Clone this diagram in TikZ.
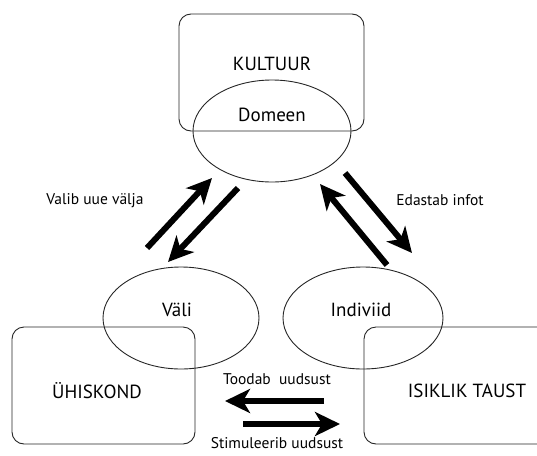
\documentclass[tikz,border=0pt]{standalone}
\usepackage{fontspec}
\setmainfont{PT Sans}
\usetikzlibrary{arrows.meta}
\tikzset{
  box/.style={draw=black!85, line width=0.9pt, rounded corners=12pt},
  oval/.style={draw=black!85, line width=0.9pt},
  bigtext/.style={font=\fontsize{19}{22}\selectfont, inner sep=0pt},
  smalltext/.style={font=\fontsize{15.5}{18}\selectfont, inner sep=0pt},
  fatarrow/.style={line width=6pt, -{Stealth[length=25pt,width=24pt,inset=7pt]}},
}
\begin{document}
\begin{tikzpicture}[x=1pt,y=-1pt]
\useasboundingbox (0,0) rectangle (537,455);
\clip (0,0) rectangle (537,455);
% boxes
\draw[box] (179,14) rectangle (364,131);
\draw[box] (12,327) rectangle (195,444);
\draw[box] (364,327) rectangle (570,444);
% ellipses
\draw[oval] (272,131) ellipse [x radius=79, y radius=51];
\draw[oval] (181,318) ellipse [x radius=78, y radius=51];
\draw[oval] (363,318) ellipse [x radius=80, y radius=51];
% labels
\node[bigtext] (kultuur) at (272,64) {KULTUUR};
\node[bigtext] (domeen) at (272,115) {Domeen};
\node[bigtext] (vali) at (177,310) {Väli};
\node[bigtext] (indiviid) at (361,310) {Indiviid};
\node[bigtext] (uhiskond) at (97,391) {ÜHISKOND};
\node[bigtext] (taust) at (467,391) {ISIKLIK TAUST};
\node[smalltext] (valib) at (95,201) {Valib uue välja};
\node[smalltext] (edastab) at (440,200) {Edastab infot};
\node[smalltext] (toodab) at (277,379) {Toodab\ \ uudsust};
\node[smalltext] (stim) at (277,443) {Stimuleerib uudsust};
% arrow endpoints
\coordinate (a1s) at (147,248); \coordinate (a1e) at (212,178);
\coordinate (a2s) at (238,188); \coordinate (a2e) at (168,262);
\coordinate (b1s) at (345,173); \coordinate (b1e) at (412,253);
\coordinate (b2s) at (387,265); \coordinate (b2e) at (320,184);
\coordinate (c1s) at (324,401); \coordinate (c1e) at (225,401);
\coordinate (c2s) at (243,424); \coordinate (c2e) at (340,424);
\draw[fatarrow] (a1s) -- (a1e);
\draw[fatarrow] (a2s) -- (a2e);
\draw[fatarrow] (b1s) -- (b1e);
\draw[fatarrow] (b2s) -- (b2e);
\draw[fatarrow] (c1s) -- (c1e);
\draw[fatarrow] (c2s) -- (c2e);
\end{tikzpicture}
\end{document}
